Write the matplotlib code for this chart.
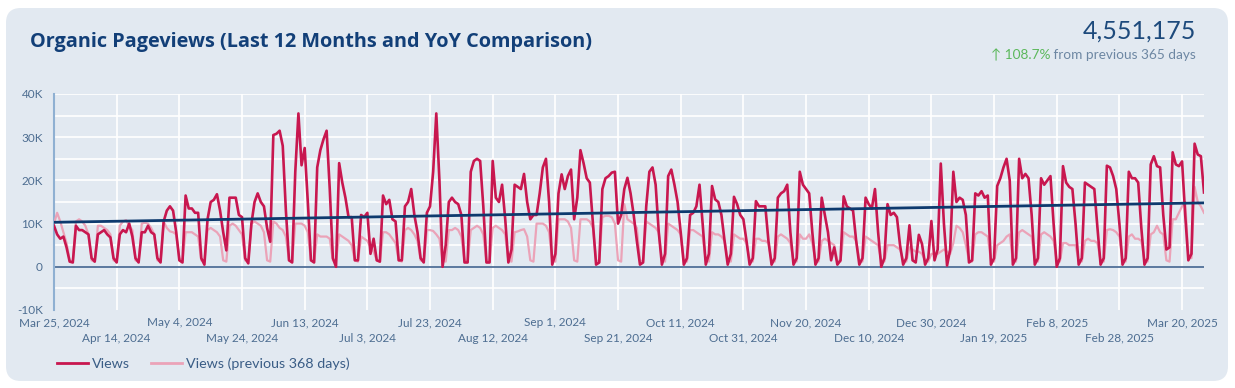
import numpy as np
import pandas as pd
import matplotlib
matplotlib.use("Agg")
import matplotlib.pyplot as plt
from matplotlib.patches import FancyBboxPatch
from matplotlib.lines import Line2D

# ---------------- data (thousands of pageviews, daily, Mon Mar 25 2024 ...) ----------------
start_date = "2024-03-25"

views_k = [
    9.5, 7.5, 6.5, 7.0, 4.5, 1.2, 1.0,
    9.5, 8.5, 8.5, 8.0, 7.5, 2.0, 1.2,
    7.5, 8.0, 8.5, 7.5, 6.8, 2.0, 1.0,
    7.5, 8.5, 8.0, 10.0, 7.0, 2.0, 1.0,
    8.0, 8.0, 9.5, 8.0, 7.5, 2.0, 1.0,
    10.5, 13.0, 14.0, 13.0, 8.0, 1.5, 1.0,
    16.5, 13.5, 13.5, 12.5, 12.5, 2.0, 0.5,
    11.0, 15.0, 15.5, 16.8, 13.0, 8.0, 3.8,
    16.0, 16.0, 16.0, 12.0, 11.5, 2.0, 0.8,
    10.0, 15.0, 17.0, 15.0, 14.0, 9.0, 5.8,
    30.5, 30.8, 31.5, 28.0, 13.0, 1.5, 1.0,
    22.0, 35.5, 23.5, 27.5, 15.0, 1.5, 1.0,
    23.0, 27.0, 29.5, 31.5, 18.0, 2.0, 0.0,
    24.0, 19.5, 16.0, 11.5, 11.5, 1.5, 1.5,
    12.0, 11.5, 12.5, 3.0, 6.5, 1.5, 1.2,
    16.5, 14.5, 15.5, 11.0, 10.5, 1.5, 1.5,
    14.0, 15.0, 18.0, 12.0, 8.0, 2.0, 1.0,
    12.5, 14.0, 22.0, 35.5, 20.0, 0.0, 5.0,
    15.0, 16.0, 15.0, 14.5, 12.0, 1.0, 1.0,
    22.0, 24.5, 25.0, 24.5, 14.0, 1.0, 1.0,
    24.5, 16.0, 15.0, 19.0, 11.0, 1.0, 4.0,
    19.0, 18.5, 18.0, 21.5, 15.0, 11.0, 12.0,
    12.0, 17.0, 23.0, 25.0, 15.0, 0.5, 3.0,
    17.0, 21.4, 18.0, 21.0, 22.5, 11.0, 16.0,
    27.0, 24.0, 20.5, 19.5, 10.0, 0.5, 1.0,
    18.0, 20.5, 21.0, 21.8, 22.0, 10.0, 12.0,
    18.0, 20.6, 17.0, 12.0, 6.0, 0.5, 1.0,
    14.0, 22.0, 23.0, 19.0, 8.0, 0.5, 3.0,
    21.0, 22.5, 19.0, 15.0, 8.0, 0.5, 2.0,
    12.0, 12.5, 14.0, 19.0, 10.0, 0.5, 3.0,
    18.7, 15.6, 15.0, 12.0, 6.0, 0.5, 3.0,
    16.2, 14.5, 12.0, 11.0, 6.0, 0.5, 2.0,
    15.2, 14.0, 14.0, 14.0, 6.0, 0.5, 2.0,
    16.0, 17.0, 17.5, 19.0, 8.0, 0.5, 2.0,
    22.0, 19.0, 18.0, 17.0, 8.0, 0.5, 2.0,
    16.0, 12.0, 8.0, 1.5, 4.5, 0.5, 1.5,
    16.3, 14.0, 13.5, 13.0, 6.0, 0.5, 2.0,
    16.0, 14.5, 13.5, 18.0, 8.0, 0.0, 2.0,
    14.5, 12.0, 12.5, 11.5, 5.0, 0.5, 2.0,
    9.6, 1.5, 1.0, 7.4, 5.3, 0.5, 2.0,
    10.6, 1.5, 4.0, 23.9, 10.0, 0.3, 4.0,
    22.0, 15.0, 16.0, 15.5, 12.0, 1.0, 1.5,
    17.0, 16.5, 17.5, 16.0, 16.5, 0.5, 2.0,
    18.7, 20.5, 23.0, 25.0, 20.0, 0.5, 2.0,
    25.0, 20.5, 21.5, 20.5, 12.0, 0.5, 2.0,
    20.5, 19.0, 20.0, 21.0, 10.0, 0.0, 2.0,
    23.3, 19.5, 18.5, 18.0, 10.0, 0.5, 2.0,
    19.5, 19.0, 18.5, 18.0, 9.0, 0.5, 2.0,
    23.4, 23.0, 21.0, 18.0, 10.0, 0.5, 2.0,
    22.0, 20.5, 20.5, 19.5, 9.0, 0.5, 2.0,
    23.7, 25.6, 23.3, 23.0, 12.0, 4.0, 4.5,
    26.5, 23.7, 23.3, 24.4, 12.0, 1.5, 3.0,
    28.5, 26.0, 25.6, 17.2,
]

prev_k = [
    10.0, 12.5, 10.5, 8.0, 5.5, 1.5, 1.2,
    10.5, 11.0, 10.5, 9.5, 7.5, 1.5, 1.2,
    9.5, 9.5, 9.0, 8.5, 7.5, 1.5, 1.2,
    9.5, 10.5, 10.8, 9.5, 8.5, 1.5, 1.2,
    10.0, 10.2, 10.0, 9.0, 7.5, 1.5, 1.2,
    10.5, 9.0, 8.2, 8.0, 7.5, 2.0, 1.5,
    8.0, 8.0, 8.0, 7.5, 7.0, 1.5, 1.2,
    8.5, 9.0, 8.5, 8.0, 7.0, 1.5, 1.2,
    9.5, 10.0, 9.5, 8.5, 7.5, 1.5, 1.2,
    10.0, 10.5, 10.0, 9.5, 8.0, 1.5, 1.2,
    10.5, 10.0, 9.0, 8.5, 7.0, 1.5, 1.2,
    10.0, 10.0, 10.0, 9.5, 8.0, 1.5, 1.2,
    7.5, 7.0, 7.0, 7.0, 6.5, 1.5, 1.2,
    7.5, 7.0, 6.5, 6.0, 5.0, 1.5, 1.2,
    7.0, 6.5, 6.0, 4.5, 3.5, 1.5, 1.2,
    8.0, 8.0, 7.5, 6.5, 5.5, 1.5, 1.2,
    8.5, 9.0, 8.5, 7.5, 6.0, 1.5, 1.2,
    8.5, 8.5, 8.3, 7.5, 6.5, 1.5, 1.2,
    8.5, 8.5, 9.0, 8.5, 7.0, 1.5, 1.2,
    8.5, 9.0, 9.5, 9.0, 7.5, 1.5, 1.2,
    9.0, 9.5, 9.0, 8.5, 7.5, 1.5, 1.2,
    8.0, 8.2, 8.5, 8.7, 7.0, 1.5, 1.2,
    10.0, 10.0, 10.0, 9.5, 8.0, 1.5, 1.2,
    11.0, 11.0, 11.0, 10.5, 9.0, 1.5, 1.2,
    11.0, 11.0, 11.0, 10.5, 9.0, 1.5, 1.2,
    11.5, 11.8, 11.8, 11.5, 10.0, 1.5, 1.2,
    14.5, 11.0, 10.5, 10.0, 9.0, 1.5, 1.2,
    10.5, 10.0, 9.5, 9.0, 8.0, 1.5, 1.2,
    10.0, 9.5, 9.0, 8.5, 7.5, 1.5, 1.2,
    8.5, 8.5, 8.0, 7.5, 7.0, 1.5, 1.2,
    8.0, 7.5, 7.5, 7.0, 6.0, 1.5, 1.2,
    7.5, 7.0, 6.5, 6.5, 5.5, 1.5, 1.2,
    6.5, 6.5, 6.0, 6.0, 5.5, 1.5, 1.2,
    7.0, 7.5, 7.0, 6.5, 5.5, 1.5, 1.2,
    7.5, 6.5, 6.5, 7.5, 5.5, 1.5, 1.2,
    6.0, 6.5, 6.0, 5.5, 5.0, 1.5, 1.2,
    8.0, 7.5, 7.0, 7.0, 6.0, 1.5, 1.2,
    7.0, 6.5, 6.0, 5.5, 5.0, 1.5, 1.2,
    5.0, 5.0, 5.0, 4.5, 4.0, 1.5, 1.2,
    4.5, 4.0, 3.5, 3.5, 3.0, 1.5, 1.2,
    3.0, 3.0, 3.0, 3.5, 4.0, 3.5, 3.0,
    5.5, 9.5, 9.0, 8.0, 5.0, 1.5, 1.2,
    7.5, 8.0, 8.0, 7.5, 7.0, 1.5, 1.2,
    5.0, 5.5, 6.0, 7.0, 7.5, 1.5, 1.2,
    8.0, 8.5, 8.0, 7.5, 7.0, 1.5, 1.2,
    7.5, 8.0, 7.5, 7.0, 6.0, 1.5, 1.2,
    5.5, 5.5, 5.0, 5.0, 5.0, 1.5, 1.2,
    6.0, 6.5, 6.0, 6.0, 5.5, 1.5, 1.2,
    8.5, 8.7, 8.5, 8.0, 7.0, 1.5, 1.2,
    7.0, 7.5, 6.5, 6.5, 6.0, 1.5, 1.2,
    7.5, 8.0, 9.5, 8.0, 7.5, 1.5, 1.2,
    11.0, 11.0, 12.5, 14.0, 15.0, 2.5, 2.0,
    18.5, 15.0, 14.0, 12.5,
]

trend_k = [10.3, 14.8]          # regression line at first / last day

total_views = "4,551,175"
change_pct = "108.7%"
change_text = " from previous 365 days"
title = "Organic Pageviews (Last 12 Months and YoY Comparison)"
series_labels = ["Views", "Views (previous 368 days)"]
tick_step_days = 20

# ---------------- styling ----------------
W, H = 1235, 388
DPI = 100
CARD = "#e2e9f1"
NAVY = "#0e3a6e"
RED = "#c8174f"
PINK = "#eba3b8"
TICK = "#4d6d91"

plt.rcParams["font.family"] = ["Lato", "DejaVu Sans"]

fig = plt.figure(figsize=(W / DPI, H / DPI), dpi=DPI)
fig.patch.set_facecolor("white")


def fx(px):
    return px / W


def fy(py):
    return 1 - py / H


card = FancyBboxPatch((fx(6), fy(381)), fx(1228) - fx(6), fy(8) - fy(381),
                      boxstyle="round,pad=0,rounding_size=0.012",
                      transform=fig.transFigure, facecolor=CARD, edgecolor="none",
                      mutation_aspect=W / H, zorder=0)
fig.add_artist(card)

ax = fig.add_axes([fx(54), fy(310), fx(1204) - fx(54), fy(94) - fy(310)])
ax.set_facecolor("none")

dates = pd.date_range(start_date, periods=len(views_k), freq="D")
views = np.array(views_k) * 1000
prev = np.array(prev_k) * 1000

ax.plot(dates, prev, color=PINK, lw=1.6, solid_joinstyle="round", zorder=3)
ax.plot(dates, views, color=RED, lw=1.9, solid_joinstyle="round", zorder=4)
ax.plot([dates[0], dates[-1]], np.array(trend_k) * 1000, color=NAVY, lw=2.0, zorder=5)
ax.axhline(0, color="#2f5585", lw=1.1, zorder=2)

ax.set_xlim(dates[0], dates[-1])
ax.set_ylim(-10000, 40000)

ax.set_yticks([-10000, 0, 10000, 20000, 30000, 40000])
ax.set_yticklabels(["-10K", "0", "10K", "20K", "30K", "40K"])
for yv in np.arange(-5000, 40001, 5000):
    ax.axhline(yv, color="white", lw=1.2, zorder=1)

tick_dates = pd.date_range(start_date, dates[-1], freq=f"{tick_step_days}D")
tick_labels = [f"{d.strftime('%b')} {d.day}, {d.year}" for d in tick_dates]
ax.set_xticks(tick_dates[0::2])
ax.set_xticklabels(tick_labels[0::2])
ax.set_xticks(tick_dates[1::2], minor=True)
ax.set_xticklabels(tick_labels[1::2], minor=True)
for d in tick_dates:
    ax.axvline(d, color="white", lw=1.2, zorder=1)

ax.tick_params(axis="both", which="both", length=0, labelsize=8.5, labelcolor=TICK)
ax.tick_params(axis="x", which="major", pad=5)
ax.tick_params(axis="x", which="minor", pad=16.5)
ax.tick_params(axis="y", pad=8)
for s in ["top", "right", "bottom"]:
    ax.spines[s].set_visible(False)
ax.spines["left"].set_color("#8fb0d2")
ax.spines["left"].set_linewidth(1.5)

# header
fig.text(fx(30), fy(42), title, fontsize=14.3, fontweight="bold", color="#123f78",
         va="center", ha="left", family=["Open Sans", "DejaVu Sans"])
fig.text(fx(1196), fy(31), total_views, fontsize=18, color="#1d4a7c", va="center",
         ha="right", fontweight="normal")
t2 = fig.text(fx(1196), fy(55), change_text, fontsize=9.8, color="#6d87a3",
              va="center", ha="right")
fig.canvas.draw()
bb = t2.get_window_extent()
fig.text(bb.x0 / W, fy(55), "\u2191 " + change_pct, fontsize=9.8, color="#5cb85c",
         va="center", ha="right")

# legend
handles = [Line2D([], [], color=RED, lw=2), Line2D([], [], color=PINK, lw=2)]
leg = fig.legend(handles, series_labels, loc="center left",
                 bbox_to_anchor=(fx(44), fy(364)), ncol=2, frameon=False,
                 fontsize=10.3, handlelength=2.15, columnspacing=1.5, handletextpad=0.3)
for t in leg.get_texts():
    t.set_color("#3a5d86")

fig.savefig("out.png", dpi=DPI, facecolor="white")
